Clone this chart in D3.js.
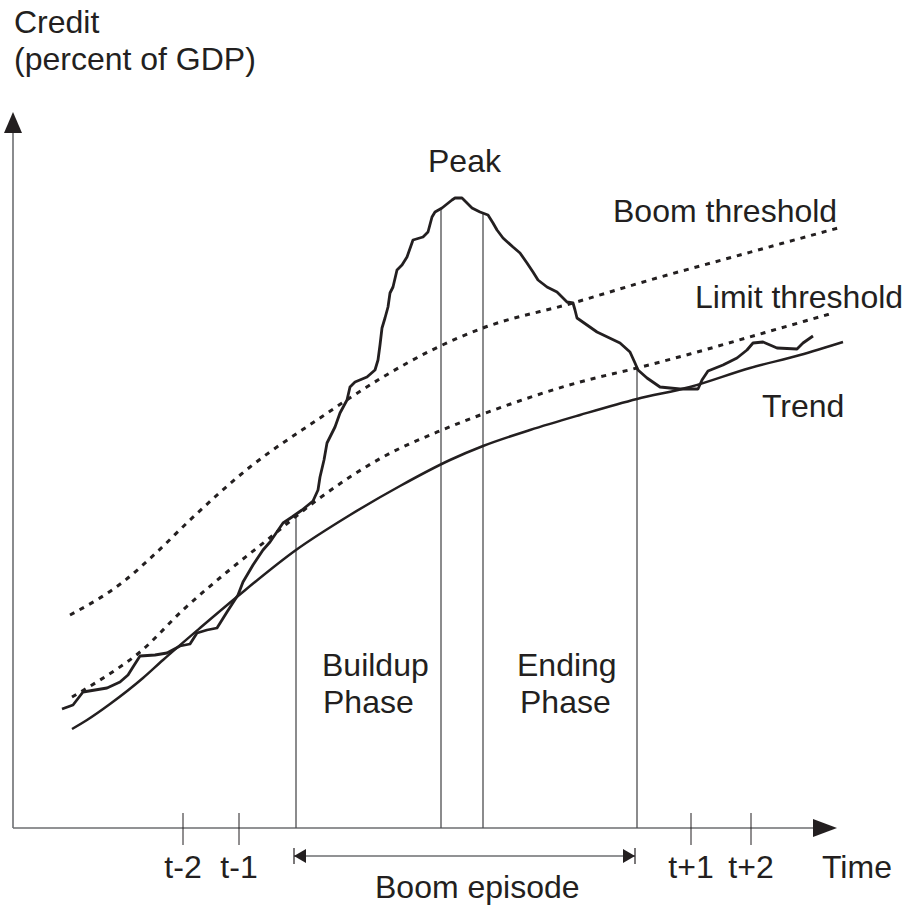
<!DOCTYPE html>
<html>
<head>
<meta charset="utf-8">
<title>Credit boom schematic</title>
<script src="https://cdn.jsdelivr.net/npm/d3@7/dist/d3.min.js"></script>
<style>
    body { margin: 0; background: #fff; }
    text {
        font-family: "Liberation Sans", Arial, sans-serif;
        font-size: 32px;
        fill: #231f20;
    }
</style>
</head>
<body>
<svg width="908" height="911"></svg>
<script>
    // time runs along x, credit (percent of GDP) along y, both in arbitrary schematic units
    const credit = [
        [49,119],[60,123],[70,136],[82,138],[94,140],[107,146],[115,153],[120,161],[127,172],[142,173],
        [154,175],[167,182],[177,184],[184,195],[194,198],[204,200],[214,216],[225,233],[230,246],[240,263],
        [250,278],[257,286],[270,305],[279,311],[289,318],[300,327],[305,338],[307,351],[311,368],[314,385],
        [322,401],[327,415],[334,428],[337,441],[342,446],[354,451],[362,458],[365,468],[367,483],[369,500],
        [372,510],[375,521],[377,535],[380,541],[384,558],[389,563],[394,571],[400,588],[410,591],[415,596],
        [419,611],[422,616],[429,620],[439,628],[442,630],[449,630],[459,620],[467,616],[475,613],[480,605],
        [484,598],[490,590],[500,581],[507,575],[514,565],[520,556],[525,548],[534,541],[544,536],[549,531],
        [554,526],[560,525],[562,518],[564,510],[584,496],[607,485],[617,476],[622,465],[625,458],[634,450],
        [647,441],[667,439],[685,439],[689,448],[695,457],[710,463],[724,470],[734,478],[740,485],[750,486],
        [764,480],[784,479],[790,485],[800,492]
    ];
    const trend = [
        [59,99],[74,108],[97,124],[130,150],[150,168],[187,200],[225,232],[283,278],[337,313],[387,342],
        [437,368],[470,382],[517,398],[567,413],[624,429],[677,441],[737,460],[787,473],[830,486]
    ];
    const limitThreshold = [
        [59,131],[87,148],[127,176],[170,218],[214,256],[254,288],[304,328],[370,371],[429,398],[470,414],
        [567,446],[624,460],[677,474],[747,494],[820,515]
    ];
    const boomThreshold = [
        [57,213],[110,246],[144,276],[177,308],[237,361],[304,408],[370,451],[419,478],[470,500],[560,525],
        [637,548],[727,573],[825,600]
    ];
    // start of boom, peak window (2), end of boom
    const phaseBounds = [283, 428, 470, 624];
    const tickTimes = [170, 226, 678, 738];
    const tickLabels = ["t-2", "t-1", "t+1", "t+2"];

    const svg = d3.select("svg");
    const ink = "#231f20";

    const x = d3.scaleLinear().domain([0, 824]).range([13, 837]);
    const y = d3.scaleLinear().domain([0, 716]).range([828, 112]);

    const smooth = d3.line().x(d => x(d[0])).y(d => y(d[1])).curve(d3.curveMonotoneX);
    const rough = d3.line().x(d => x(d[0])).y(d => y(d[1]));

    // credit value at a given time
    const bisect = d3.bisector(d => d[0]).left;
    function creditAt(t) {
        const i = bisect(credit, t);
        const a = credit[i - 1], b = credit[i];
        return a[1] + (b[1] - a[1]) * (t - a[0]) / (b[0] - a[0]);
    }

    // axes
    svg.append("line")
        .attr("x1", x(0)).attr("y1", y(0)).attr("x2", x(0)).attr("y2", y(700))
        .attr("stroke", "#6d6e71").attr("stroke-width", 1.6);
    svg.append("path")
        .attr("d", `M${x(0)},${y(716)} L${x(0) - 9},${y(695)} L${x(0) + 9},${y(695)} Z`)
        .attr("fill", ink);
    svg.append("line")
        .attr("x1", x(0)).attr("y1", y(0)).attr("x2", x(810)).attr("y2", y(0))
        .attr("stroke", "#6d6e71").attr("stroke-width", 1.6);
    svg.append("path")
        .attr("d", `M${x(824)},${y(0)} L${x(800)},${y(0) - 9} L${x(800)},${y(0) + 9} Z`)
        .attr("fill", ink);

    svg.append("g").selectAll("line")
        .data(tickTimes)
        .join("line")
        .attr("x1", d => x(d)).attr("x2", d => x(d))
        .attr("y1", y(0) - 15).attr("y2", y(0) + 17)
        .attr("stroke", ink).attr("stroke-width", 1);

    svg.append("g").selectAll("text")
        .data(tickTimes)
        .join("text")
        .attr("x", d => x(d))
        .attr("y", 878)
        .attr("text-anchor", "middle")
        .text((d, i) => tickLabels[i]);

    svg.append("text").attr("x", 822).attr("y", 878).text("Time");

    // phase boundaries up to the credit line
    svg.append("g").selectAll("line")
        .data(phaseBounds)
        .join("line")
        .attr("x1", d => x(d)).attr("x2", d => x(d))
        .attr("y1", y(0)).attr("y2", d => y(creditAt(d)))
        .attr("stroke", "#4d4d4f").attr("stroke-width", 1.3);

    // series
    svg.append("path").datum(boomThreshold)
        .attr("d", smooth).attr("fill", "none")
        .attr("stroke", ink).attr("stroke-width", 3).attr("stroke-dasharray", "5,6");
    svg.append("path").datum(limitThreshold)
        .attr("d", smooth).attr("fill", "none")
        .attr("stroke", ink).attr("stroke-width", 3).attr("stroke-dasharray", "5,6");
    svg.append("path").datum(trend)
        .attr("d", smooth).attr("fill", "none")
        .attr("stroke", ink).attr("stroke-width", 2.5);
    svg.append("path").datum(credit)
        .attr("d", rough).attr("fill", "none")
        .attr("stroke", ink).attr("stroke-width", 2.8).attr("stroke-linejoin", "round");

    // boom episode span
    const ey = 856, x0 = x(phaseBounds[0]) - 2, x1 = x(phaseBounds[3]) - 2;
    svg.append("line").attr("x1", x0).attr("x2", x1).attr("y1", ey).attr("y2", ey)
        .attr("stroke", "#6d6e71").attr("stroke-width", 1.6);
    svg.append("line").attr("x1", x0).attr("x2", x0).attr("y1", ey - 8).attr("y2", ey + 8)
        .attr("stroke", ink).attr("stroke-width", 1.2);
    svg.append("line").attr("x1", x1).attr("x2", x1).attr("y1", ey - 8).attr("y2", ey + 8)
        .attr("stroke", ink).attr("stroke-width", 1.2);
    svg.append("path").attr("d", `M${x0},${ey} L${x0 + 12},${ey - 7} L${x0 + 12},${ey + 7} Z`).attr("fill", ink);
    svg.append("path").attr("d", `M${x1},${ey} L${x1 - 12},${ey - 7} L${x1 - 12},${ey + 7} Z`).attr("fill", ink);
    svg.append("text").attr("x", 375).attr("y", 898).text("Boom episode");

    // labels
    svg.append("text").attr("x", 14).attr("y", 33).text("Credit");
    svg.append("text").attr("x", 14).attr("y", 70).text("(percent of GDP)");
    svg.append("text").attr("x", 428).attr("y", 172).text("Peak");
    svg.append("text").attr("x", 613).attr("y", 222).text("Boom threshold");
    svg.append("text").attr("x", 695).attr("y", 308).text("Limit threshold");
    svg.append("text").attr("x", 762).attr("y", 417).text("Trend");
    svg.append("text").attr("x", 322).attr("y", 676).text("Buildup");
    svg.append("text").attr("x", 323).attr("y", 713).text("Phase");
    svg.append("text").attr("x", 517).attr("y", 676).text("Ending");
    svg.append("text").attr("x", 520).attr("y", 713).text("Phase");
</script>
</body>
</html>
